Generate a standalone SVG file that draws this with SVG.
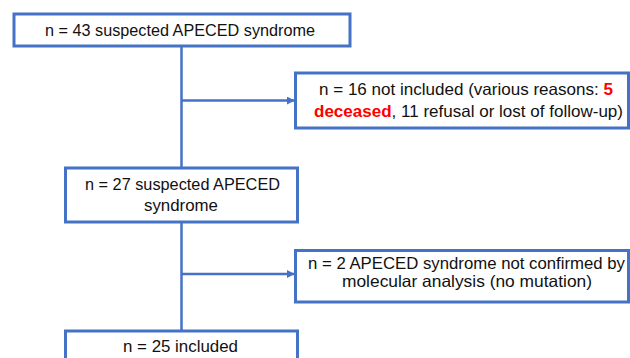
<svg xmlns="http://www.w3.org/2000/svg" width="630" height="358" viewBox="0 0 630 358">
<style>
.box{fill:#fff;stroke:#4472C4;stroke-width:3}
.ln{stroke:#4472C4;stroke-width:2.5;fill:none}
text{font-family:"Liberation Sans",Arial,sans-serif;font-size:16.5px;fill:#111;text-anchor:middle}
.red{fill:#FF0000;font-weight:bold}
</style>
<defs>
<marker id="ah" viewBox="0 0 10 10" refX="9" refY="5" markerWidth="3.2" markerHeight="3.2" orient="auto" markerUnits="strokeWidth">
<path d="M0,0 L10,5 L0,10 z" fill="#4472C4"/>
</marker>
</defs>
<g id="connectors">
<line class="ln" x1="181.5" y1="46" x2="181.5" y2="167"/>
<line class="ln" x1="181.5" y1="222" x2="181.5" y2="330"/>
<line class="ln" x1="181.5" y1="100.5" x2="294" y2="100.5" marker-end="url(#ah)"/>
<line class="ln" x1="181.5" y1="274" x2="294" y2="274" marker-end="url(#ah)"/>
</g>
<g id="n1">
<rect class="box" x="14" y="14" width="336" height="32"/>
<text x="180" y="36" textLength="270" lengthAdjust="spacingAndGlyphs">n = 43 suspected APECED syndrome</text>
</g>
<g id="n2">
<rect class="box" x="295.5" y="73" width="333" height="55"/>
<text x="466" y="95" textLength="294" lengthAdjust="spacingAndGlyphs">n = 16 not included (various reasons: <tspan class="red">5</tspan></text>
<text x="468.5" y="117" textLength="309" lengthAdjust="spacingAndGlyphs"><tspan class="red">deceased</tspan>, 11 refusal or lost of follow-up)</text>
</g>
<g id="n3">
<rect class="box" x="65.5" y="168" width="232" height="54"/>
<text x="182.5" y="190" textLength="195" lengthAdjust="spacingAndGlyphs">n = 27 suspected APECED</text>
<text x="181" y="211" textLength="74" lengthAdjust="spacingAndGlyphs">syndrome</text>
</g>
<g id="n4">
<rect class="box" x="295.5" y="250.5" width="333" height="51.5"/>
<text x="466.5" y="269" textLength="317" lengthAdjust="spacingAndGlyphs">n = 2 APECED syndrome not confirmed by</text>
<text x="467" y="287" textLength="250" lengthAdjust="spacingAndGlyphs">molecular analysis (no mutation)</text>
</g>
<g id="n5">
<rect class="box" x="65.5" y="331" width="232" height="40"/>
<text x="180.5" y="352" textLength="115" lengthAdjust="spacingAndGlyphs">n = 25 included</text>
</g>
</svg>
